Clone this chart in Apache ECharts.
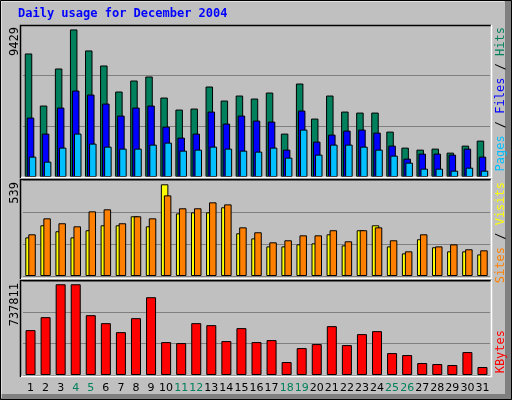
<!DOCTYPE html>
<html><head><meta charset="utf-8">
<script src="https://cdn.jsdelivr.net/npm/echarts@6/dist/echarts.min.js"></script>
<style>html,body{margin:0;padding:0;background:#c0c0c0}#c{width:512px;height:400px}</style>
</head><body><div id="c"></div>
<script>
const days = ['1','2','3','4','5','6','7','8','9','10','11','12','13','14','15','16','17','18','19','20','21','22','23','24','25','26','27','28','29','30','31'];
const weekendDays = ['4','5','11','12','18','19','25','26'];
const hits = [7892,4565,6933,9429,8085,7125,5461,6165,6421,5077,4309,4373,5781,4885,5205,5013,5397,2773,5973,3733,5205,4181,4117,4117,2901,1877,1749,1813,1557,2005,2325];
const files = [3797,2773,4437,5525,5269,4693,3925,4437,4565,3221,2517,2773,4181,3413,3925,3605,3541,1749,4245,2261,2709,2965,3029,2837,2005,1173,1493,1493,1429,1813,1301];
const pages = [1301,981,1877,2773,2133,1941,1813,1813,2069,2197,1685,1749,1941,1813,1685,1621,1877,1237,3029,1429,2069,2069,1941,1749,1365,917,533,533,405,597,405];
const visits = [227,298,263,227,269,298,298,351,292,539,368,374,374,404,251,221,174,174,186,192,245,180,269,298,174,133,216,169,145,145,127];
const sites = [245,339,310,292,380,392,310,351,339,474,398,398,433,421,286,257,198,210,239,239,269,204,269,286,210,145,245,174,186,157,151];
const kbytes = [364851,470252,737811,737811,486468,421606,348635,462145,632408,267557,259450,421606,405390,275665,381067,267557,283773,105401,218911,251342,397282,243234,332420,356743,178372,162156,97294,89186,81078,186479,64862];

const maxTop = Math.max(...hits), maxMid = Math.max(...visits, ...sites), maxBot = Math.max(...kbytes);
const chart = echarts.init(document.getElementById('c'));
const L = 23, W = 467;
const panels = [{top:25,h:152,max:maxTop*1.03},{top:180,h:96,max:maxMid*1.047},{top:281,h:94,max:maxBot*1.036}];
const grids = panels.map(p=>({left:L,width:W,top:p.top,height:p.h}));
const xAxes = panels.map((p,i)=>({type:'category',gridIndex:i,data:days,axisLine:{show:false},axisTick:{show:false},
  axisLabel:i===2?{show:true,interval:0,margin:8,fontFamily:'DejaVu Sans',fontSize:11,
    formatter:v=>weekendDays.includes(v)?'{g|'+v+'}':'{b|'+v+'}',rich:{g:{color:'#00805c',fontFamily:'DejaVu Sans',fontSize:11},b:{color:'#000',fontFamily:'DejaVu Sans',fontSize:11}}}:{show:false}}));
const yAxes = panels.map((p,i)=>({type:'value',gridIndex:i,min:0,max:p.max,interval:p.max/3,axisLabel:{show:false},axisLine:{show:false},axisTick:{show:false},splitLine:{show:true,lineStyle:{color:'#808080',width:1}}}));
const bs = c=>({color:c,borderColor:'#000',borderWidth:1});
const series = [
 {type:'bar',xAxisIndex:0,yAxisIndex:0,data:hits,barWidth:7.5,barGap:'-73%',itemStyle:bs('#00805c')},
 {type:'bar',xAxisIndex:0,yAxisIndex:0,data:files,barWidth:7.5,barGap:'-73%',itemStyle:bs('#0000ff')},
 {type:'bar',xAxisIndex:0,yAxisIndex:0,data:pages,barWidth:7.5,barGap:'-73%',itemStyle:bs('#00c0ff')},
 {type:'bar',xAxisIndex:1,yAxisIndex:1,data:visits,barWidth:7.5,barGap:'-60%',itemStyle:bs('#ffff00')},
 {type:'bar',xAxisIndex:1,yAxisIndex:1,data:sites,barWidth:7.5,barGap:'-60%',itemStyle:bs('#ff8000')},
 {type:'bar',xAxisIndex:2,yAxisIndex:2,data:kbytes,barWidth:10,itemStyle:bs('#ff0000')}
];
const g = [];
// outer frame
g.push({type:'rect',shape:{x:0,y:0,width:512,height:400},style:{fill:'#c0c0c0'},z:-10});
g.push({type:'rect',shape:{x:505,y:0,width:7,height:400},style:{fill:'#808080'},z:-9});
g.push({type:'rect',shape:{x:0,y:394,width:512,height:6},style:{fill:'#808080'},z:-9});
g.push({type:'polyline',shape:{points:[[1,398],[1,1],[504,1]]},style:{stroke:'#fff',lineWidth:1,fill:null},z:-8});
g.push({type:'rect',shape:{x:0.5,y:0.5,width:511,height:399},style:{stroke:'#000',fill:null,lineWidth:1},z:-8});
// panel frames
const fr=[[25,178],[179,279],[280,377]];
fr.forEach(([t,b])=>{
 g.push({type:'polyline',shape:{points:[[20.5,b],[20.5,t+0.5],[491,t+0.5]]},style:{stroke:'#000',lineWidth:1.5,fill:null},z:50});
 g.push({type:'polyline',shape:{points:[[21,b-0.5],[491.5,b-0.5],[491.5,t]]},style:{stroke:'#fff',lineWidth:1.5,fill:null},z:50});
});
g.push({type:'text',left:18,top:8,style:{text:'Daily usage for December 2004',fill:'#0000ff',font:'bold 12px "DejaVu Sans Mono"'}});
const ylab=(txt,y)=>({type:'text',x:9,y:y,rotation:Math.PI/2,style:{text:txt,fill:'#000',font:'12px "DejaVu Sans Mono"',align:'right',verticalAlign:'top'}});
g.push(ylab(String(maxTop),27));
g.push(ylab(String(maxMid),182));
g.push(ylab(String(maxBot),283));
const rlab=(parts,y)=>({type:'text',x:495,y:y,rotation:Math.PI/2,style:{text:parts.map(p=>'{'+p[1]+'|'+p[0]+'}').join(''),align:'right',verticalAlign:'top',
  rich:{c:{fill:'#00c0ff',font:'12px "DejaVu Sans Mono"'},b:{fill:'#0000ff',font:'12px "DejaVu Sans Mono"'},g:{fill:'#00805c',font:'12px "DejaVu Sans Mono"'},k:{fill:'#000',font:'12px "DejaVu Sans Mono"'},y:{fill:'#ffff00',font:'12px "DejaVu Sans Mono"'},o:{fill:'#ff8000',font:'12px "DejaVu Sans Mono"'},r:{fill:'#ff0000',font:'12px "DejaVu Sans Mono"'}}}});
g.push(rlab([['Pages','c'],[' / ','k'],['Files','b'],[' / ','k'],['Hits','g']],27));
g.push(rlab([['Sites','o'],[' / ','k'],['Visits','y']],182));
g.push(rlab([['KBytes','r']],330));
chart.setOption({animation:false,grid:grids,xAxis:xAxes,yAxis:yAxes,series,graphic:g});
</script></body></html>
